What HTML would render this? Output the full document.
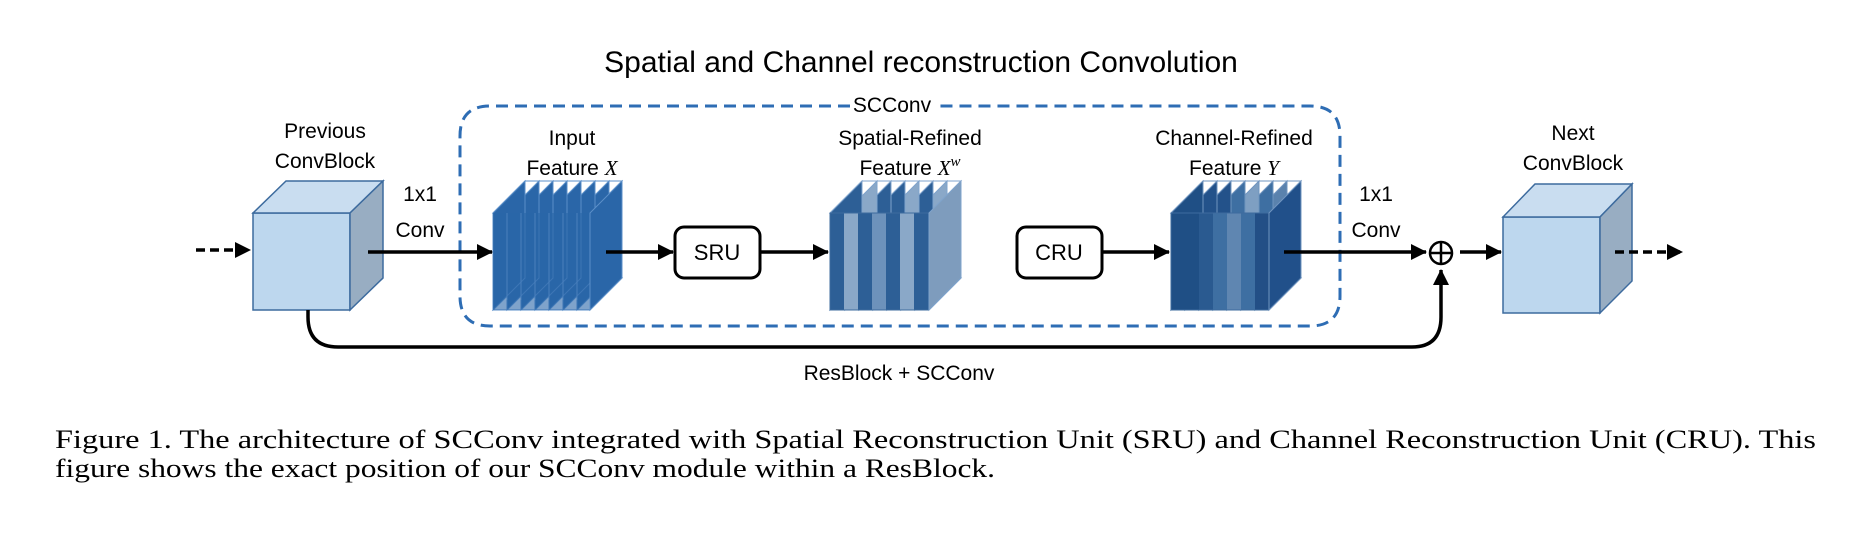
<!DOCTYPE html>
<html><head><style>body{margin:0;background:#fff}svg{display:block}</style></head><body>
<svg width="1873" height="545" viewBox="0 0 1873 545" xmlns="http://www.w3.org/2000/svg">
<defs>
<marker id="ah2" markerWidth="16" markerHeight="16" refX="15" refY="8" orient="auto" markerUnits="userSpaceOnUse"><path d="M0,0 L16,8 L0,16 z" fill="#000"/></marker>
</defs>
<path d="M850,106 L490,106 Q460,106 460,136 L460,296 Q460,326 490,326 L1310,326 Q1340,326 1340,296 L1340,136 Q1340,106 1310,106 L935,106" fill="none" stroke="#2e6db4" stroke-width="3" stroke-dasharray="12,7"/>
<g stroke="#3d6b9e" stroke-width="1.5">
<rect x="253" y="213" width="97" height="97" fill="#bdd7ee"/>
<polygon points="253,213 286,181 383,181 350,213" fill="#c9ddf0"/>
<polygon points="350,213 383,181 383,278 350,310" fill="#98adc2"/>
</g>
<g stroke="#3d6b9e" stroke-width="1.5">
<rect x="1503" y="217" width="97" height="96" fill="#bdd7ee"/>
<polygon points="1503,217 1535,184 1632,184 1600,217" fill="#c9ddf0"/>
<polygon points="1600,217 1632,184 1632,281 1600,313" fill="#98adc2"/>
</g>
<g stroke="#5b8fc9" stroke-width="1">
<polygon points="493,213 525,181 622,181 590,213" fill="#fff"/>
<polygon points="493,310 525,278 622,278 590,310" fill="#fff"/>
<g fill="#2a66a8">
<polygon points="577,213 609,181 609,278 577,310"/><polygon points="563,213 595,181 595,278 563,310"/><polygon points="549,213 581,181 581,278 549,310"/><polygon points="535,213 567,181 567,278 535,310"/><polygon points="521,213 553,181 553,278 521,310"/><polygon points="507,213 539,181 539,278 507,310"/><polygon points="493,213 525,181 525,278 493,310"/>
</g>
<rect x="493" y="213" width="97" height="97" fill="#2a66a8" fill-opacity="0.6" stroke="none"/>
<g stroke="#4a80bd"><line x1="507" y1="213" x2="507" y2="300"/><line x1="521" y1="213" x2="521" y2="300"/><line x1="535" y1="213" x2="535" y2="300"/><line x1="549" y1="213" x2="549" y2="300"/><line x1="563" y1="213" x2="563" y2="300"/><line x1="577" y1="213" x2="577" y2="300"/></g>
<polygon points="590,213 622,181 622,278 590,310" fill="#2a66a8"/>
</g>
<g stroke="#7fa3cc" stroke-width="1">
<polygon points="830,213 862,181 961,181 929,213" fill="#fff"/>
<polygon points="830,310 862,278 961,278 929,310" fill="#fff"/>
<polygon points="915,213 947,181 947,278 915,310" fill="#8aa8c8"/>
<polygon points="901,213 933,181 933,278 901,310" fill="#2d5f96"/>
<polygon points="887,213 919,181 919,278 887,310" fill="#8aa8c8"/>
<polygon points="873,213 905,181 905,278 873,310" fill="#2d5f96"/>
<polygon points="859,213 891,181 891,278 859,310" fill="#2d5f96"/>
<polygon points="845,213 877,181 877,278 845,310" fill="#8aa8c8"/>
<polygon points="830,213 862,181 862,278 830,310" fill="#2d5f96"/>
<rect x="830" y="213" width="14" height="97" fill="#2d5f96" stroke="none"/>
<rect x="844" y="213" width="14" height="97" fill="#8aa8c8" stroke="none"/>
<rect x="858" y="213" width="14" height="97" fill="#2d5f96" stroke="none"/>
<rect x="872" y="213" width="14" height="97" fill="#6d92bb" stroke="none"/>
<rect x="886" y="213" width="14" height="97" fill="#2d5f96" stroke="none"/>
<rect x="900" y="213" width="14" height="97" fill="#8aa8c8" stroke="none"/>
<rect x="914" y="213" width="15" height="97" fill="#2d5f96" stroke="none"/>
<rect x="830" y="213" width="99" height="97" fill="none" stroke="#3d6b9e"/>
<polygon points="929,213 961,181 961,278 929,310" fill="#7e9cbd"/>
</g>
<g stroke="#6f94bf" stroke-width="1">
<polygon points="1171,213 1203,181 1301,181 1269,213" fill="#fff"/>
<polygon points="1171,310 1203,278 1301,278 1269,310" fill="#fff"/>
<polygon points="1255,213 1287,181 1287,278 1255,310" fill="#5a82ad"/>
<polygon points="1241,213 1273,181 1273,278 1241,310" fill="#3e6fa2"/>
<polygon points="1227,213 1259,181 1259,278 1227,310" fill="#7e9fc2"/>
<polygon points="1213,213 1245,181 1245,278 1213,310" fill="#3e6fa2"/>
<polygon points="1199,213 1231,181 1231,278 1199,310" fill="#23528a"/>
<polygon points="1185,213 1217,181 1217,278 1185,310" fill="#23528a"/>
<polygon points="1171,213 1203,181 1203,278 1171,310" fill="#1f4f85"/>
<rect x="1171" y="213" width="28" height="97" fill="#1f4f85" stroke="none"/>
<rect x="1199" y="213" width="14" height="97" fill="#2a5a90" stroke="none"/>
<rect x="1213" y="213" width="14" height="97" fill="#3e6fa2" stroke="none"/>
<rect x="1227" y="213" width="14" height="97" fill="#5f86b1" stroke="none"/>
<rect x="1241" y="213" width="14" height="97" fill="#3e6fa2" stroke="none"/>
<rect x="1255" y="213" width="14" height="97" fill="#234f86" stroke="none"/>
<rect x="1171" y="213" width="98" height="97" fill="none" stroke="#3d6b9e"/>
<polygon points="1269,213 1301,181 1301,278 1269,310" fill="#21508a"/>
</g>
<rect x="675" y="227" width="85" height="51" rx="9" fill="#fff" stroke="#000" stroke-width="3"/>
<rect x="1017" y="227" width="85" height="51" rx="9" fill="#fff" stroke="#000" stroke-width="3"/>
<g stroke="#000" stroke-width="3.5" fill="none">
<line x1="196" y1="250" x2="250" y2="250" stroke-dasharray="9,5" marker-end="url(#ah2)"/>
<line x1="368" y1="252" x2="492" y2="252" marker-end="url(#ah2)"/>
<line x1="606" y1="252" x2="673" y2="252" marker-end="url(#ah2)"/>
<line x1="761" y1="252" x2="828" y2="252" marker-end="url(#ah2)"/>
<line x1="1103" y1="252" x2="1169" y2="252" marker-end="url(#ah2)"/>
<line x1="1284" y1="252" x2="1426" y2="252" marker-end="url(#ah2)"/>
<line x1="1460" y1="252" x2="1501" y2="252" marker-end="url(#ah2)"/>
<line x1="1615" y1="252" x2="1682" y2="252" stroke-dasharray="9,5" marker-end="url(#ah2)"/>
<path d="M308,310 L308,317 Q308,347 338,347 L1412,347 Q1441,347 1441,317 L1441,270" marker-end="url(#ah2)"/>
</g>
<circle cx="1441" cy="253" r="11" fill="#fff" stroke="#000" stroke-width="2.5"/>
<line x1="1430" y1="253" x2="1452" y2="253" stroke="#000" stroke-width="2.5"/>
<line x1="1441" y1="242" x2="1441" y2="264" stroke="#000" stroke-width="2.5"/>
<rect x="850" y="94" width="84" height="20" fill="#fff"/>
<g font-family="Liberation Sans, DejaVu Sans, sans-serif" fill="#000" text-anchor="middle">
<text x="921" y="72" font-size="30">Spatial and Channel reconstruction Convolution</text>
<text x="892" y="112" font-size="21">SCConv</text>
<text x="325" y="138" font-size="21">Previous</text>
<text x="325" y="168" font-size="21">ConvBlock</text>
<text x="420" y="201" font-size="21">1x1</text>
<text x="420" y="237" font-size="21">Conv</text>
<text x="572" y="145" font-size="21">Input</text>
<text x="572" y="175" font-size="21">Feature <tspan font-family="Liberation Serif, serif" font-style="italic">X</tspan></text>
<text x="910" y="145" font-size="21">Spatial-Refined</text>
<text x="910" y="175" font-size="21">Feature <tspan font-family="Liberation Serif, serif" font-style="italic">X<tspan font-size="15" dy="-9">w</tspan></tspan></text>
<text x="1234" y="145" font-size="21">Channel-Refined</text>
<text x="1234" y="175" font-size="21">Feature <tspan font-family="Liberation Serif, serif" font-style="italic">Y</tspan></text>
<text x="1376" y="201" font-size="21">1x1</text>
<text x="1376" y="237" font-size="21">Conv</text>
<text x="1573" y="140" font-size="21">Next</text>
<text x="1573" y="170" font-size="21">ConvBlock</text>
<text x="899" y="380" font-size="21">ResBlock + SCConv</text>
<text x="717" y="260" font-size="22">SRU</text>
<text x="1059" y="260" font-size="22">CRU</text>
</g>
<g font-family="Liberation Serif, serif" font-size="26" fill="#000">
<text x="55" y="448" textLength="1761" lengthAdjust="spacingAndGlyphs">Figure 1. The architecture of SCConv integrated with Spatial Reconstruction Unit (SRU) and Channel Reconstruction Unit (CRU). This</text>
<text x="55" y="477" textLength="940" lengthAdjust="spacingAndGlyphs">figure shows the exact position of our SCConv module within a ResBlock.</text>
</g>
</svg>
</body></html>
